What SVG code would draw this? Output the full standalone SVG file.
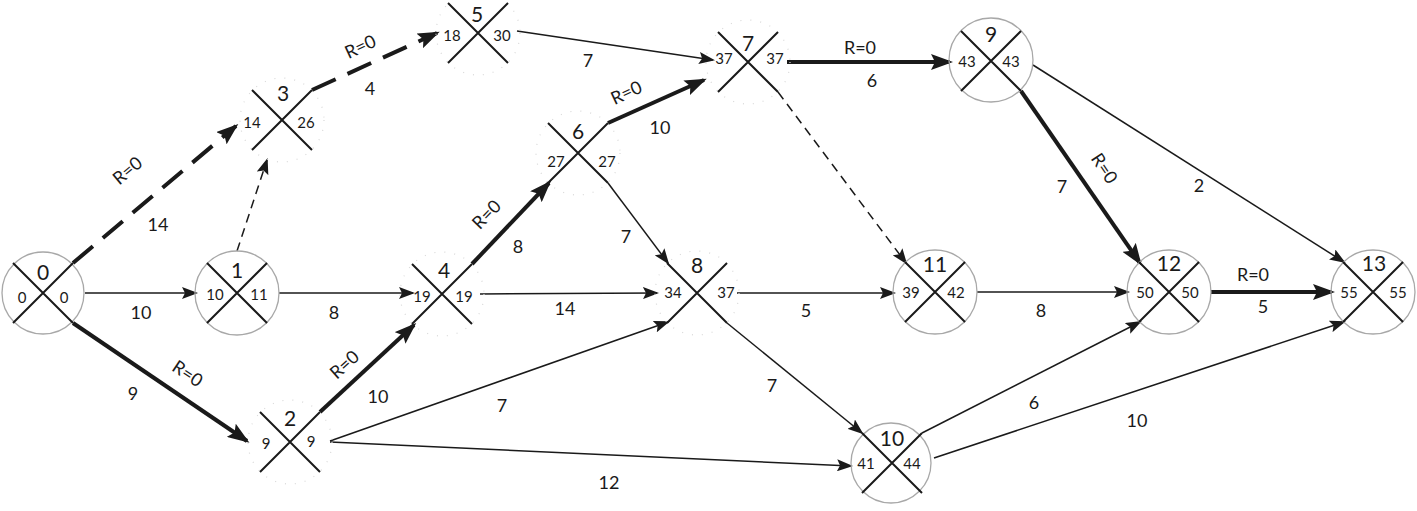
<svg xmlns="http://www.w3.org/2000/svg" width="1417" height="511" viewBox="0 0 1417 511">
<style>
.bg{fill:#ffffff}
.ring{fill:none;stroke:#a8a8a8;stroke-width:1.3}
.faint{fill:none;stroke:#d8d8d8;stroke-width:1.2;stroke-dasharray:1 9}
.x{stroke:#1a1a1a;stroke-width:2;fill:none}
.thin{stroke:#1a1a1a;stroke-width:1.5;fill:none}
.thick{stroke:#1a1a1a;stroke-width:4;fill:none}
.dash{stroke-dasharray:9 6}
.tdash{stroke-dasharray:26 13}
text{font-family:Lato,"Liberation Sans",Arial,sans-serif;fill:#1a1a1a;text-anchor:middle;dominant-baseline:central}
.nn{font-size:21px}
.nv{font-size:15px}
.lb{font-size:18px}
</style>
<defs>
<marker id="ah" markerUnits="userSpaceOnUse" viewBox="0 0 16 12" markerWidth="16" markerHeight="12" refX="14" refY="6" orient="auto">
<path d="M0,0 L16,6 L0,12 L3,6 z" fill="#1a1a1a"/>
</marker>
<marker id="ahb" markerUnits="userSpaceOnUse" viewBox="0 0 22 16" markerWidth="22" markerHeight="16" refX="19" refY="8" orient="auto">
<path d="M0,0 L22,8 L0,16 L4,8 z" fill="#1a1a1a"/>
</marker>
</defs>
<rect class="bg" x="0" y="0" width="1417" height="511"/>
<g id="connectors">
<path class="thick tdash" d="M73,263 L236,126" marker-end="url(#ahb)"/>
<path class="thin" d="M85,293 L196,293" marker-end="url(#ah)"/>
<path class="thick" d="M73,323 L247,441" marker-end="url(#ahb)"/>
<path class="thin dash" d="M237,251 L267,160" marker-end="url(#ah)"/>
<path class="thin" d="M279,293 L413,293" marker-end="url(#ah)"/>
<path class="thick" d="M320,412 L414,325" marker-end="url(#ahb)"/>
<path class="thin" d="M330,441 L668,322" marker-end="url(#ah)"/>
<path class="thin" d="M330,442 L851,466" marker-end="url(#ah)"/>
<path class="thick tdash" d="M312,90 L437,33" marker-end="url(#ahb)"/>
<path class="thick" d="M472,264 L549,183" marker-end="url(#ahb)"/>
<path class="thin" d="M480,294 L657,293" marker-end="url(#ah)"/>
<path class="thin" d="M517,31 L713,60" marker-end="url(#ah)"/>
<path class="thick" d="M608,123 L704,80" marker-end="url(#ahb)"/>
<path class="thin" d="M608,183 L668,263" marker-end="url(#ah)"/>
<path class="thick" d="M787,62 L950,62" marker-end="url(#ahb)"/>
<path class="thin dash" d="M778,92 L906,263" marker-end="url(#ah)"/>
<path class="thin" d="M737,293 L894,293" marker-end="url(#ah)"/>
<path class="thin" d="M727,323 L862,433" marker-end="url(#ah)"/>
<path class="thick" d="M1021,91 L1140,263" marker-end="url(#ahb)"/>
<path class="thin" d="M1033,65 L1344,262" marker-end="url(#ah)"/>
<path class="thin" d="M922,433 L1140,322" marker-end="url(#ah)"/>
<path class="thin" d="M934,458 L1344,322" marker-end="url(#ah)"/>
<path class="thin" d="M977,292 L1128,292" marker-end="url(#ah)"/>
<path class="thick" d="M1211,292 L1332,292" marker-end="url(#ahb)"/>
</g>
<g id="edge-labels">
<text class="lb" transform="translate(127,170) rotate(-40)">R=0</text>
<text class="lb" x="158" y="224">14</text>
<text class="lb" x="141" y="312">10</text>
<text class="lb" transform="translate(188,373) rotate(34)">R=0</text>
<text class="lb" x="133" y="393">9</text>
<text class="lb" transform="translate(360,46) rotate(-25)">R=0</text>
<text class="lb" x="370" y="88">4</text>
<text class="lb" x="334" y="312">8</text>
<text class="lb" transform="translate(344,364) rotate(-42)">R=0</text>
<text class="lb" x="378" y="396">10</text>
<text class="lb" x="502" y="405">7</text>
<text class="lb" x="609" y="482">12</text>
<text class="lb" transform="translate(486,214) rotate(-46)">R=0</text>
<text class="lb" x="518" y="246">8</text>
<text class="lb" x="565" y="308">14</text>
<text class="lb" x="588" y="60">7</text>
<text class="lb" transform="translate(626,92) rotate(-25)">R=0</text>
<text class="lb" x="660" y="127">10</text>
<text class="lb" x="626" y="236">7</text>
<text class="lb" x="860" y="47">R=0</text>
<text class="lb" x="872" y="80">6</text>
<text class="lb" x="806" y="310">5</text>
<text class="lb" x="772" y="385">7</text>
<text class="lb" transform="translate(1105,168) rotate(56)">R=0</text>
<text class="lb" x="1062" y="186">7</text>
<text class="lb" x="1199" y="185">2</text>
<text class="lb" x="1041" y="310">8</text>
<text class="lb" x="1034" y="402">6</text>
<text class="lb" x="1137" y="420">10</text>
<text class="lb" x="1253" y="274">R=0</text>
<text class="lb" x="1263" y="306">5</text>
</g>
<g id="node0"><circle class="ring" cx="43" cy="293" r="41"/><path class="x" d="M13,263 L73,323 M73,263 L13,323"/><text class="nn" x="43" y="271">0</text><text class="nv" x="22" y="297">0</text><text class="nv" x="64" y="297">0</text></g>
<g id="node1"><circle class="ring" cx="237" cy="293" r="42"/><path class="x" d="M207,263 L267,323 M267,263 L207,323"/><text class="nn" x="237" y="269">1</text><text class="nv" x="215" y="294">10</text><text class="nv" x="259" y="294">11</text></g>
<g id="node2"><circle class="faint" cx="290" cy="442" r="42"/><path class="x" d="M260,412 L320,472 M320,412 L260,472"/><text class="nn" x="290" y="417">2</text><text class="nv" x="266" y="443">9</text><text class="nv" x="311" y="441">9</text></g>
<g id="node3"><circle class="faint" cx="282" cy="120" r="42"/><path class="x" d="M252,90 L312,150 M312,90 L252,150"/><text class="nn" x="283" y="92">3</text><text class="nv" x="252" y="122">14</text><text class="nv" x="306" y="122">26</text></g>
<g id="node4"><circle class="faint" cx="442" cy="294" r="42"/><path class="x" d="M412,264 L472,324 M472,264 L412,324"/><text class="nn" x="444" y="269">4</text><text class="nv" x="422" y="296">19</text><text class="nv" x="464" y="296">19</text></g>
<g id="node5"><circle class="faint" cx="478" cy="33" r="42"/><path class="x" d="M448,3 L508,63 M508,3 L448,63"/><text class="nn" x="477" y="13">5</text><text class="nv" x="452" y="35">18</text><text class="nv" x="502" y="35">30</text></g>
<g id="node6"><circle class="faint" cx="578" cy="153" r="42"/><path class="x" d="M548,123 L608,183 M608,123 L548,183"/><text class="nn" x="578" y="130">6</text><text class="nv" x="556" y="161">27</text><text class="nv" x="607" y="161">27</text></g>
<g id="node7"><circle class="faint" cx="748" cy="62" r="42"/><path class="x" d="M718,32 L778,92 M778,32 L718,92"/><text class="nn" x="748" y="42">7</text><text class="nv" x="724" y="58">37</text><text class="nv" x="775" y="58">37</text></g>
<g id="node8"><circle class="faint" cx="697" cy="293" r="42"/><path class="x" d="M667,263 L727,323 M727,263 L667,323"/><text class="nn" x="697" y="264">8</text><text class="nv" x="673" y="292">34</text><text class="nv" x="726" y="292">37</text></g>
<g id="node9"><circle class="ring" cx="991" cy="60" r="42"/><path class="x" d="M961,31 L1021,91 M1021,31 L961,91"/><text class="nn" x="991" y="33">9</text><text class="nv" x="967" y="61">43</text><text class="nv" x="1011" y="61">43</text></g>
<g id="node10"><circle class="ring" cx="891" cy="463" r="40"/><path class="x" d="M862,433 L922,493 M922,433 L862,493"/><text class="nn" x="892" y="437">10</text><text class="nv" x="866" y="463">41</text><text class="nv" x="912" y="463">44</text></g>
<g id="node11"><circle class="ring" cx="935" cy="292" r="42"/><path class="x" d="M905,262 L965,322 M965,262 L905,322"/><text class="nn" x="935" y="263">11</text><text class="nv" x="911" y="292">39</text><text class="nv" x="956" y="292">42</text></g>
<g id="node12"><circle class="ring" cx="1169" cy="292" r="42"/><path class="x" d="M1139,262 L1199,322 M1199,262 L1139,322"/><text class="nn" x="1169" y="262">12</text><text class="nv" x="1145" y="292">50</text><text class="nv" x="1190" y="292">50</text></g>
<g id="node13"><circle class="ring" cx="1373" cy="292" r="42"/><path class="x" d="M1343,262 L1403,322 M1403,262 L1343,322"/><text class="nn" x="1374" y="262">13</text><text class="nv" x="1349" y="292">55</text><text class="nv" x="1398" y="292">55</text></g>
</svg>
